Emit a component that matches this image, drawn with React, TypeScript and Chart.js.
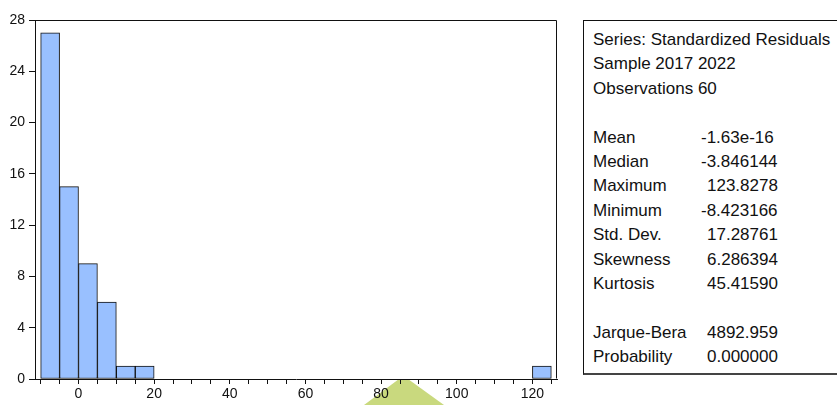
import { useEffect, useRef } from "react";
import { Chart, registerables } from "chart.js";

Chart.register(...registerables);

// Histogram bins (lower bound of each 5-wide bin) and their counts
const binStarts = [
  -10, -5, 0, 5, 10, 15, 20, 25, 30, 35, 40, 45, 50, 55, 60, 65, 70, 75, 80,
  85, 90, 95, 100, 105, 110, 115, 120,
];
const counts = [
  27, 15, 9, 6, 1, 1, 0, 0, 0, 0, 0, 0, 0, 0, 0, 0, 0, 0, 0, 0, 0, 0, 0, 0, 0,
  0, 1,
];
const binWidth = 5;

// Axis ranges and tick spacing
const xRange = [-11.5, 126.5];
const xMinorStep = 5;
const xLabelStep = 20;
const yRange = [0, 28];
const yStep = 4;

// Descriptive statistics panel
const headerLines = [
  "Series: Standardized Residuals",
  "Sample 2017 2022",
  "Observations 60",
];
const statNames = [
  "Mean",
  "Median",
  "Maximum",
  "Minimum",
  "Std. Dev.",
  "Skewness",
  "Kurtosis",
];
const statValues = [
  "-1.63e-16",
  "-3.846144",
  "123.8278",
  "-8.423166",
  "17.28761",
  "6.286394",
  "45.41590",
];
const testNames = ["Jarque-Bera", "Probability"];
const testValues = ["4892.959", "0.000000"];

const FONT = "'Liberation Sans', Arial, Helvetica, sans-serif";
const BAR_FILL = "#99c0ff";
const INK = "#111111";

// Closes the plot frame (top and right edges)
const framePlugin = {
  id: "plotFrame",
  afterDraw(chart: any) {
    const { ctx, chartArea } = chart;
    const l = Math.round(chartArea.left) + 0.5;
    const r = Math.round(chartArea.right) - 0.5;
    const t = Math.round(chartArea.top) + 0.5;
    const b = Math.round(chartArea.bottom) - 0.5;
    ctx.save();
    ctx.strokeStyle = INK;
    ctx.lineWidth = 1;
    ctx.beginPath();
    ctx.moveTo(l, t);
    ctx.lineTo(r, t);
    ctx.lineTo(r, b);
    ctx.stroke();
    ctx.restore();
  },
};

// Faint green badge peeking up under the x axis
const badgePlugin = {
  id: "badge",
  beforeDraw(chart: any) {
    const { ctx } = chart;
    ctx.save();
    ctx.fillStyle = "#c9d97e";
    ctx.beginPath();
    ctx.moveTo(399, 379);
    ctx.lineTo(408, 379);
    ctx.lineTo(444, 405);
    ctx.lineTo(364, 405);
    ctx.closePath();
    ctx.fill();
    ctx.restore();
  },
};

function Histogram() {
  const canvasRef = useRef<HTMLCanvasElement | null>(null);

  useEffect(() => {
    const canvas = canvasRef.current;
    if (!canvas) return;

    const points = binStarts
      .map((start, i) => ({ x: start + binWidth / 2, y: counts[i] }))
      .filter((p) => p.y > 0);

    const chart = new Chart(canvas, {
      type: "bar",
      data: {
        datasets: [
          {
            data: points as any,
            backgroundColor: BAR_FILL,
            borderColor: INK,
            borderWidth: 1,
            borderSkipped: false,
            barPercentage: 1,
            categoryPercentage: 1,
          },
        ],
      },
      options: {
        responsive: false,
        animation: false,
        events: [],
        layout: { padding: { left: 0, right: 280, top: 20, bottom: 0 } },
        plugins: {
          legend: { display: false },
          tooltip: { enabled: false },
        },
        scales: {
          x: {
            type: "linear",
            offset: false,
            min: xRange[0],
            max: xRange[1],
            grid: {
              display: true,
              offset: false,
              drawOnChartArea: false,
              drawTicks: true,
              tickLength: 5,
              color: INK,
              lineWidth: 1,
            },
            border: { display: true, color: INK, width: 1 },
            ticks: {
              stepSize: xMinorStep,
              includeBounds: false,
              autoSkip: false,
              maxRotation: 0,
              minRotation: 0,
              padding: 2,
              color: INK,
              font: { family: FONT, size: 14 },
              callback: (v: any) =>
                Number(v) % xLabelStep === 0 ? String(v) : "",
            },
            afterFit: (s: any) => {
              s.height = 26;
            },
          },
          y: {
            type: "linear",
            min: yRange[0],
            max: yRange[1],
            grid: {
              display: true,
              drawOnChartArea: false,
              drawTicks: true,
              tickLength: 6,
              color: INK,
              lineWidth: 1,
            },
            border: { display: true, color: INK, width: 1 },
            ticks: {
              stepSize: yStep,
              padding: 4,
              color: INK,
              font: { family: FONT, size: 14 },
            },
            afterFit: (s: any) => {
              s.width = 35;
            },
          },
        },
      },
      plugins: [badgePlugin, framePlugin],
    });

    return () => chart.destroy();
  }, []);

  return (
    <canvas
      ref={canvasRef}
      width={837}
      height={405}
      style={{ position: "absolute", left: 0, top: 0, display: "block" }}
    />
  );
}

function StatsPanel() {
  const rowH = 24.4;
  const labelX = 9;
  const valueX = 123;
  const row = (label: string, value?: string, key?: string) => (
    <div key={key} style={{ position: "relative", height: rowH, lineHeight: `${rowH}px` }}>
      <span style={{ position: "absolute", left: labelX, whiteSpace: "nowrap" }}>{label}</span>
      {value !== undefined && (
        <span
          style={{
            position: "absolute",
            left: value.startsWith("-") ? valueX - 6 : valueX,
            whiteSpace: "nowrap",
          }}
        >
          {value}
        </span>
      )}
    </div>
  );

  return (
    <div
      style={{
        position: "absolute",
        left: 583,
        top: 20,
        width: 300,
        height: 355,
        boxSizing: "border-box",
        border: `1px solid ${INK}`,
        borderBottom: "2px solid #444",
        paddingTop: 7,
        fontFamily: FONT,
        fontSize: 17,
        color: INK,
        background: "#fff",
      }}
    >
      {headerLines.map((t, i) => row(t, undefined, `h${i}`))}
      {row("", undefined, "gap1")}
      {statNames.map((n, i) => row(n, statValues[i], `s${i}`))}
      {row("", undefined, "gap2")}
      {testNames.map((n, i) => row(n, testValues[i], `t${i}`))}
    </div>
  );
}

export default function App() {
  return (
    <div
      style={{
        position: "fixed",
        left: 0,
        top: 0,
        width: 837,
        height: 405,
        overflow: "hidden",
        background: "#fff",
      }}
    >
      <Histogram />
      <StatsPanel />
    </div>
  );
}
